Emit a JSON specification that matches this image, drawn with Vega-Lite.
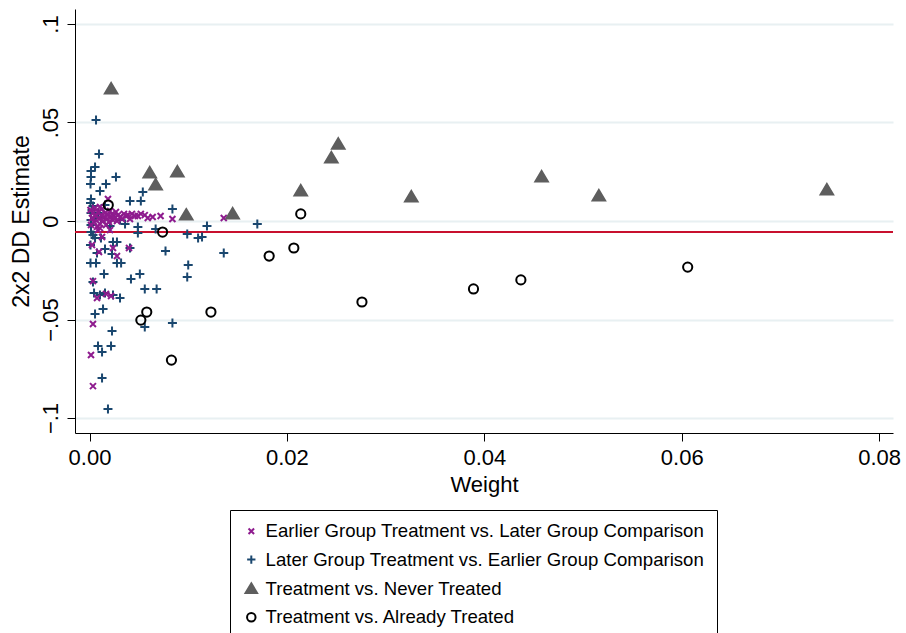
{
  "$schema": "https://vega.github.io/schema/vega-lite/v6.json",
  "width": 818,
  "height": 424,
  "autosize": {"type": "none"},
  "padding": {"left": 75, "top": 9, "right": 13, "bottom": 200},
  "background": "white",
  "config": {
    "view": {"stroke": null},
    "font": "Liberation Sans",
    "axis": {
      "domainColor": "black",
      "tickColor": "black",
      "labelColor": "black",
      "titleColor": "black",
      "labelFont": "Liberation Sans",
      "titleFont": "Liberation Sans",
      "titleFontWeight": "normal",
      "tickSize": 8,
      "domainWidth": 1,
      "tickWidth": 1
    },
    "legend": {
      "labelFont": "Liberation Sans",
      "labelColor": "black"
    }
  },
  "layer": [
    {
      "data": {"values": [{"overall": -0.0056}]},
      "mark": {"type": "rule", "color": "#c8102e", "strokeWidth": 2},
      "encoding": {
        "y": {"field": "overall", "type": "quantitative", "scale": {"domain": [-0.1076, 0.1076], "nice": false, "zero": false}}
      }
    },
    {
      "data": {
        "values": [
          {"group": "Later Group Treatment vs. Earlier Group Comparison", "weight": 0.00066, "estimate": 0.0513},
          {"group": "Later Group Treatment vs. Earlier Group Comparison", "weight": 0.00096, "estimate": 0.034},
          {"group": "Later Group Treatment vs. Earlier Group Comparison", "weight": 0.00056, "estimate": 0.0274},
          {"group": "Later Group Treatment vs. Earlier Group Comparison", "weight": 0.00015, "estimate": 0.0254},
          {"group": "Later Group Treatment vs. Earlier Group Comparison", "weight": 0.00015, "estimate": 0.0223},
          {"group": "Later Group Treatment vs. Earlier Group Comparison", "weight": 0.0001, "estimate": 0.0188},
          {"group": "Later Group Treatment vs. Earlier Group Comparison", "weight": 0.00167, "estimate": 0.0188},
          {"group": "Later Group Treatment vs. Earlier Group Comparison", "weight": 0.00106, "estimate": 0.0152},
          {"group": "Later Group Treatment vs. Earlier Group Comparison", "weight": 0.00268, "estimate": 0.0223},
          {"group": "Later Group Treatment vs. Earlier Group Comparison", "weight": 0.0054, "estimate": 0.0147},
          {"group": "Later Group Treatment vs. Earlier Group Comparison", "weight": 0.0041, "estimate": 0.0102},
          {"group": "Later Group Treatment vs. Earlier Group Comparison", "weight": 0.0052, "estimate": 0.0102},
          {"group": "Later Group Treatment vs. Earlier Group Comparison", "weight": 0.00015, "estimate": 0.0112},
          {"group": "Later Group Treatment vs. Earlier Group Comparison", "weight": 0.00035, "estimate": 0.0076},
          {"group": "Later Group Treatment vs. Earlier Group Comparison", "weight": 0.00025, "estimate": 0.0056},
          {"group": "Later Group Treatment vs. Earlier Group Comparison", "weight": 0.00015, "estimate": 0.0041},
          {"group": "Later Group Treatment vs. Earlier Group Comparison", "weight": 0.00116, "estimate": 0.0015},
          {"group": "Later Group Treatment vs. Earlier Group Comparison", "weight": 0.00015, "estimate": -0.002},
          {"group": "Later Group Treatment vs. Earlier Group Comparison", "weight": 0.00015, "estimate": -0.0056},
          {"group": "Later Group Treatment vs. Earlier Group Comparison", "weight": 0.00056, "estimate": -0.0086},
          {"group": "Later Group Treatment vs. Earlier Group Comparison", "weight": 0.00116, "estimate": -0.0086},
          {"group": "Later Group Treatment vs. Earlier Group Comparison", "weight": 0.0001, "estimate": -0.0122},
          {"group": "Later Group Treatment vs. Earlier Group Comparison", "weight": 0.00076, "estimate": -0.0162},
          {"group": "Later Group Treatment vs. Earlier Group Comparison", "weight": 0.00157, "estimate": -0.0142},
          {"group": "Later Group Treatment vs. Earlier Group Comparison", "weight": 0.00228, "estimate": -0.0168},
          {"group": "Later Group Treatment vs. Earlier Group Comparison", "weight": 0.00238, "estimate": -0.0107},
          {"group": "Later Group Treatment vs. Earlier Group Comparison", "weight": 0.00278, "estimate": -0.0107},
          {"group": "Later Group Treatment vs. Earlier Group Comparison", "weight": 0.00035, "estimate": -0.0071},
          {"group": "Later Group Treatment vs. Earlier Group Comparison", "weight": 0.0001, "estimate": -0.0213},
          {"group": "Later Group Treatment vs. Earlier Group Comparison", "weight": 0.00066, "estimate": -0.0213},
          {"group": "Later Group Treatment vs. Earlier Group Comparison", "weight": 0.00278, "estimate": -0.0213},
          {"group": "Later Group Treatment vs. Earlier Group Comparison", "weight": 0.0032, "estimate": -0.0213},
          {"group": "Later Group Treatment vs. Earlier Group Comparison", "weight": 0.00147, "estimate": -0.0269},
          {"group": "Later Group Treatment vs. Earlier Group Comparison", "weight": 0.0051, "estimate": -0.0269},
          {"group": "Later Group Treatment vs. Earlier Group Comparison", "weight": 0.0042, "estimate": -0.0294},
          {"group": "Later Group Treatment vs. Earlier Group Comparison", "weight": 0.0056, "estimate": -0.0345},
          {"group": "Later Group Treatment vs. Earlier Group Comparison", "weight": 0.0068, "estimate": -0.0345},
          {"group": "Later Group Treatment vs. Earlier Group Comparison", "weight": 0.00035, "estimate": -0.031},
          {"group": "Later Group Treatment vs. Earlier Group Comparison", "weight": 0.00046, "estimate": -0.0365},
          {"group": "Later Group Treatment vs. Earlier Group Comparison", "weight": 0.00106, "estimate": -0.0376},
          {"group": "Later Group Treatment vs. Earlier Group Comparison", "weight": 0.00157, "estimate": -0.0365},
          {"group": "Later Group Treatment vs. Earlier Group Comparison", "weight": 0.00238, "estimate": -0.0376},
          {"group": "Later Group Treatment vs. Earlier Group Comparison", "weight": 0.00309, "estimate": -0.0391},
          {"group": "Later Group Treatment vs. Earlier Group Comparison", "weight": 0.00137, "estimate": -0.0447},
          {"group": "Later Group Treatment vs. Earlier Group Comparison", "weight": 0.00056, "estimate": -0.0472},
          {"group": "Later Group Treatment vs. Earlier Group Comparison", "weight": 0.00228, "estimate": -0.0558},
          {"group": "Later Group Treatment vs. Earlier Group Comparison", "weight": 0.0056, "estimate": -0.0538},
          {"group": "Later Group Treatment vs. Earlier Group Comparison", "weight": 0.0084, "estimate": -0.0518},
          {"group": "Later Group Treatment vs. Earlier Group Comparison", "weight": 0.00086, "estimate": -0.0635},
          {"group": "Later Group Treatment vs. Earlier Group Comparison", "weight": 0.00218, "estimate": -0.0635},
          {"group": "Later Group Treatment vs. Earlier Group Comparison", "weight": 0.00127, "estimate": -0.0665},
          {"group": "Later Group Treatment vs. Earlier Group Comparison", "weight": 0.00127, "estimate": -0.0797},
          {"group": "Later Group Treatment vs. Earlier Group Comparison", "weight": 0.00187, "estimate": -0.0954},
          {"group": "Later Group Treatment vs. Earlier Group Comparison", "weight": 0.0067, "estimate": -0.0041},
          {"group": "Later Group Treatment vs. Earlier Group Comparison", "weight": 0.0049, "estimate": -0.003},
          {"group": "Later Group Treatment vs. Earlier Group Comparison", "weight": 0.0049, "estimate": -0.0061},
          {"group": "Later Group Treatment vs. Earlier Group Comparison", "weight": 0.0041, "estimate": -0.0137},
          {"group": "Later Group Treatment vs. Earlier Group Comparison", "weight": 0.0084, "estimate": 0.0061},
          {"group": "Later Group Treatment vs. Earlier Group Comparison", "weight": 0.0099, "estimate": -0.0066},
          {"group": "Later Group Treatment vs. Earlier Group Comparison", "weight": 0.011, "estimate": -0.0086},
          {"group": "Later Group Treatment vs. Earlier Group Comparison", "weight": 0.0114, "estimate": -0.0081},
          {"group": "Later Group Treatment vs. Earlier Group Comparison", "weight": 0.0119, "estimate": -0.0025},
          {"group": "Later Group Treatment vs. Earlier Group Comparison", "weight": 0.017, "estimate": -0.0015},
          {"group": "Later Group Treatment vs. Earlier Group Comparison", "weight": 0.0077, "estimate": -0.0152},
          {"group": "Later Group Treatment vs. Earlier Group Comparison", "weight": 0.0136, "estimate": -0.0162},
          {"group": "Later Group Treatment vs. Earlier Group Comparison", "weight": 0.01, "estimate": -0.0223},
          {"group": "Later Group Treatment vs. Earlier Group Comparison", "weight": 0.0099, "estimate": -0.0284},
          {"group": "Later Group Treatment vs. Earlier Group Comparison", "weight": 0.00157, "estimate": 0.0081},
          {"group": "Later Group Treatment vs. Earlier Group Comparison", "weight": 0.00086, "estimate": 0.0041},
          {"group": "Later Group Treatment vs. Earlier Group Comparison", "weight": 0.00309, "estimate": 0.0005},
          {"group": "Later Group Treatment vs. Earlier Group Comparison", "weight": 0.00208, "estimate": -0.0025},
          {"group": "Later Group Treatment vs. Earlier Group Comparison", "weight": 0.0036, "estimate": -0.0015},
          {"group": "Later Group Treatment vs. Earlier Group Comparison", "weight": 0.0001, "estimate": 0.0091},
          {"group": "Later Group Treatment vs. Earlier Group Comparison", "weight": 0.00056, "estimate": 0.0015},
          {"group": "Later Group Treatment vs. Earlier Group Comparison", "weight": 0.00015, "estimate": 0.0005},

          {"group": "Earlier Group Treatment vs. Later Group Comparison", "weight": 0.0001, "estimate": 0.0056},
          {"group": "Earlier Group Treatment vs. Later Group Comparison", "weight": 0.00015, "estimate": -0.002},
          {"group": "Earlier Group Treatment vs. Later Group Comparison", "weight": 0.00025, "estimate": 0.0015},
          {"group": "Earlier Group Treatment vs. Later Group Comparison", "weight": 0.00035, "estimate": 0.0041},
          {"group": "Earlier Group Treatment vs. Later Group Comparison", "weight": 0.00046, "estimate": -0.0005},
          {"group": "Earlier Group Treatment vs. Later Group Comparison", "weight": 0.00056, "estimate": 0.0066},
          {"group": "Earlier Group Treatment vs. Later Group Comparison", "weight": 0.00066, "estimate": 0.0025},
          {"group": "Earlier Group Treatment vs. Later Group Comparison", "weight": 0.00076, "estimate": -0.003},
          {"group": "Earlier Group Treatment vs. Later Group Comparison", "weight": 0.00086, "estimate": 0.0046},
          {"group": "Earlier Group Treatment vs. Later Group Comparison", "weight": 0.00096, "estimate": 0.001},
          {"group": "Earlier Group Treatment vs. Later Group Comparison", "weight": 0.00106, "estimate": -0.0015},
          {"group": "Earlier Group Treatment vs. Later Group Comparison", "weight": 0.00116, "estimate": 0.003},
          {"group": "Earlier Group Treatment vs. Later Group Comparison", "weight": 0.00127, "estimate": 0.0061},
          {"group": "Earlier Group Treatment vs. Later Group Comparison", "weight": 0.00137, "estimate": 0.0},
          {"group": "Earlier Group Treatment vs. Later Group Comparison", "weight": 0.00147, "estimate": 0.002},
          {"group": "Earlier Group Treatment vs. Later Group Comparison", "weight": 0.00157, "estimate": 0.0041},
          {"group": "Earlier Group Treatment vs. Later Group Comparison", "weight": 0.00167, "estimate": -0.002},
          {"group": "Earlier Group Treatment vs. Later Group Comparison", "weight": 0.00177, "estimate": 0.001},
          {"group": "Earlier Group Treatment vs. Later Group Comparison", "weight": 0.00187, "estimate": 0.003},
          {"group": "Earlier Group Treatment vs. Later Group Comparison", "weight": 0.00197, "estimate": -0.0005},
          {"group": "Earlier Group Treatment vs. Later Group Comparison", "weight": 0.00208, "estimate": 0.0051},
          {"group": "Earlier Group Treatment vs. Later Group Comparison", "weight": 0.00218, "estimate": 0.002},
          {"group": "Earlier Group Treatment vs. Later Group Comparison", "weight": 0.00228, "estimate": 0.0036},
          {"group": "Earlier Group Treatment vs. Later Group Comparison", "weight": 0.00238, "estimate": 0.0005},
          {"group": "Earlier Group Treatment vs. Later Group Comparison", "weight": 0.00248, "estimate": 0.0025},
          {"group": "Earlier Group Treatment vs. Later Group Comparison", "weight": 0.00258, "estimate": 0.0015},
          {"group": "Earlier Group Treatment vs. Later Group Comparison", "weight": 0.00268, "estimate": 0.0046},
          {"group": "Earlier Group Treatment vs. Later Group Comparison", "weight": 0.00278, "estimate": 0.0},
          {"group": "Earlier Group Treatment vs. Later Group Comparison", "weight": 0.00289, "estimate": 0.003},
          {"group": "Earlier Group Treatment vs. Later Group Comparison", "weight": 0.00309, "estimate": 0.002},
          {"group": "Earlier Group Treatment vs. Later Group Comparison", "weight": 0.00329, "estimate": 0.001},
          {"group": "Earlier Group Treatment vs. Later Group Comparison", "weight": 0.00349, "estimate": 0.0036},
          {"group": "Earlier Group Treatment vs. Later Group Comparison", "weight": 0.0037, "estimate": 0.0025},
          {"group": "Earlier Group Treatment vs. Later Group Comparison", "weight": 0.0039, "estimate": 0.003},
          {"group": "Earlier Group Treatment vs. Later Group Comparison", "weight": 0.0041, "estimate": 0.001},
          {"group": "Earlier Group Treatment vs. Later Group Comparison", "weight": 0.0043, "estimate": 0.0036},
          {"group": "Earlier Group Treatment vs. Later Group Comparison", "weight": 0.0046, "estimate": 0.0025},
          {"group": "Earlier Group Treatment vs. Later Group Comparison", "weight": 0.0049, "estimate": 0.0025},
          {"group": "Earlier Group Treatment vs. Later Group Comparison", "weight": 0.0052, "estimate": 0.0036},
          {"group": "Earlier Group Treatment vs. Later Group Comparison", "weight": 0.0056, "estimate": 0.003},
          {"group": "Earlier Group Treatment vs. Later Group Comparison", "weight": 0.0059, "estimate": 0.0015},
          {"group": "Earlier Group Treatment vs. Later Group Comparison", "weight": 0.0064, "estimate": 0.002},
          {"group": "Earlier Group Treatment vs. Later Group Comparison", "weight": 0.0072, "estimate": 0.0025},
          {"group": "Earlier Group Treatment vs. Later Group Comparison", "weight": 0.0084, "estimate": 0.001},
          {"group": "Earlier Group Treatment vs. Later Group Comparison", "weight": 0.0136, "estimate": 0.0015},
          {"group": "Earlier Group Treatment vs. Later Group Comparison", "weight": 0.00086, "estimate": -0.0046},
          {"group": "Earlier Group Treatment vs. Later Group Comparison", "weight": 0.00106, "estimate": -0.0036},
          {"group": "Earlier Group Treatment vs. Later Group Comparison", "weight": 0.00208, "estimate": -0.0046},
          {"group": "Earlier Group Treatment vs. Later Group Comparison", "weight": 0.00187, "estimate": 0.0112},
          {"group": "Earlier Group Treatment vs. Later Group Comparison", "weight": 0.00106, "estimate": 0.0071},
          {"group": "Earlier Group Treatment vs. Later Group Comparison", "weight": 0.00127, "estimate": -0.0081},
          {"group": "Earlier Group Treatment vs. Later Group Comparison", "weight": 0.00025, "estimate": -0.0122},
          {"group": "Earlier Group Treatment vs. Later Group Comparison", "weight": 0.00096, "estimate": -0.0157},
          {"group": "Earlier Group Treatment vs. Later Group Comparison", "weight": 0.00238, "estimate": -0.0137},
          {"group": "Earlier Group Treatment vs. Later Group Comparison", "weight": 0.00278, "estimate": -0.0178},
          {"group": "Earlier Group Treatment vs. Later Group Comparison", "weight": 0.004, "estimate": -0.0137},
          {"group": "Earlier Group Treatment vs. Later Group Comparison", "weight": 0.00035, "estimate": -0.0305},
          {"group": "Earlier Group Treatment vs. Later Group Comparison", "weight": 0.00076, "estimate": -0.0391},
          {"group": "Earlier Group Treatment vs. Later Group Comparison", "weight": 0.00167, "estimate": -0.037},
          {"group": "Earlier Group Treatment vs. Later Group Comparison", "weight": 0.00218, "estimate": -0.0381},
          {"group": "Earlier Group Treatment vs. Later Group Comparison", "weight": 0.00035, "estimate": -0.0523},
          {"group": "Earlier Group Treatment vs. Later Group Comparison", "weight": 0.00015, "estimate": -0.068},
          {"group": "Earlier Group Treatment vs. Later Group Comparison", "weight": 0.00035, "estimate": -0.0838},

          {"group": "Treatment vs. Never Treated", "weight": 0.00219, "estimate": 0.067},
          {"group": "Treatment vs. Never Treated", "weight": 0.0061, "estimate": 0.0244},
          {"group": "Treatment vs. Never Treated", "weight": 0.0067, "estimate": 0.0183},
          {"group": "Treatment vs. Never Treated", "weight": 0.0089, "estimate": 0.0249},
          {"group": "Treatment vs. Never Treated", "weight": 0.0098, "estimate": 0.003},
          {"group": "Treatment vs. Never Treated", "weight": 0.0145, "estimate": 0.0036},
          {"group": "Treatment vs. Never Treated", "weight": 0.0214, "estimate": 0.0152},
          {"group": "Treatment vs. Never Treated", "weight": 0.0245, "estimate": 0.032},
          {"group": "Treatment vs. Never Treated", "weight": 0.0252, "estimate": 0.039},
          {"group": "Treatment vs. Never Treated", "weight": 0.0326, "estimate": 0.0122},
          {"group": "Treatment vs. Never Treated", "weight": 0.0458, "estimate": 0.0223},
          {"group": "Treatment vs. Never Treated", "weight": 0.0516, "estimate": 0.0127},
          {"group": "Treatment vs. Never Treated", "weight": 0.0747, "estimate": 0.0157},

          {"group": "Treatment vs. Already Treated", "weight": 0.0019, "estimate": 0.0081},
          {"group": "Treatment vs. Already Treated", "weight": 0.0074, "estimate": -0.0056},
          {"group": "Treatment vs. Already Treated", "weight": 0.0052, "estimate": -0.0503},
          {"group": "Treatment vs. Already Treated", "weight": 0.0058, "estimate": -0.0462},
          {"group": "Treatment vs. Already Treated", "weight": 0.0083, "estimate": -0.0706},
          {"group": "Treatment vs. Already Treated", "weight": 0.0123, "estimate": -0.0462},
          {"group": "Treatment vs. Already Treated", "weight": 0.0182, "estimate": -0.0178},
          {"group": "Treatment vs. Already Treated", "weight": 0.0207, "estimate": -0.0137},
          {"group": "Treatment vs. Already Treated", "weight": 0.0214, "estimate": 0.0036},
          {"group": "Treatment vs. Already Treated", "weight": 0.0276, "estimate": -0.0411},
          {"group": "Treatment vs. Already Treated", "weight": 0.0389, "estimate": -0.0345},
          {"group": "Treatment vs. Already Treated", "weight": 0.0437, "estimate": -0.0299},
          {"group": "Treatment vs. Already Treated", "weight": 0.0606, "estimate": -0.0234}
        ]
      },
      "mark": {"type": "point", "size": 100, "strokeWidth": 2, "opacity": 1},
      "encoding": {
        "x": {
          "field": "weight",
          "type": "quantitative",
          "title": "Weight",
          "scale": {"domain": [-0.00147, 0.0814], "nice": false, "zero": false},
          "axis": {
            "values": [0, 0.02, 0.04, 0.06, 0.08],
            "format": ".2f",
            "grid": false,
            "labelFontSize": 22,
            "titleFontSize": 22,
            "labelPadding": 6,
            "titlePadding": 6
          }
        },
        "y": {
          "field": "estimate",
          "type": "quantitative",
          "title": "2x2 DD Estimate",
          "scale": {"domain": [-0.1076, 0.1076], "nice": false, "zero": false},
          "axis": {
            "values": [-0.1, -0.05, 0, 0.05, 0.1],
            "labelExpr": "replace(format(datum.value, '~g'), '0.', '.')",
            "labelAngle": -90,
            "labelAlign": "center",
            "labelBaseline": "bottom",
            "labelPadding": 5,
            "labelFontSize": 22,
            "titleFontSize": 23,
            "titlePadding": 6,
            "grid": true,
            "gridColor": "#e8f0f2",
            "gridWidth": 2
          }
        },
        "shape": {
          "field": "group",
          "type": "nominal",
          "scale": {
            "domain": [
              "Earlier Group Treatment vs. Later Group Comparison",
              "Later Group Treatment vs. Earlier Group Comparison",
              "Treatment vs. Never Treated",
              "Treatment vs. Already Treated"
            ],
            "range": [
              "M-0.6,-0.6L0.6,0.6M0.6,-0.6L-0.6,0.6",
              "M-0.9,0L0.9,0M0,-0.9L0,0.9",
              "M0,-1.2L1.25,0.9L-1.25,0.9Z",
              "M0.92,0A0.92,0.92 0 1,1 -0.92,0A0.92,0.92 0 1,1 0.92,0Z"
            ]
          },
          "legend": {
            "title": null,
            "orient": "none",
            "legendX": 155,
            "legendY": 501,
            "strokeColor": "black",
            "padding": 12,
            "labelFontSize": 18.6,
            "labelOffset": 5,
            "rowPadding": 9.3,
            "symbolSize": 85,
            "symbolStrokeWidth": 2,
            "labelLimit": 600
          }
        },
        "fill": {
          "field": "group",
          "type": "nominal",
          "scale": {
            "domain": [
              "Earlier Group Treatment vs. Later Group Comparison",
              "Later Group Treatment vs. Earlier Group Comparison",
              "Treatment vs. Never Treated",
              "Treatment vs. Already Treated"
            ],
            "range": ["transparent", "transparent", "#5e5e5e", "transparent"]
          }
        },
        "stroke": {
          "field": "group",
          "type": "nominal",
          "scale": {
            "domain": [
              "Earlier Group Treatment vs. Later Group Comparison",
              "Later Group Treatment vs. Earlier Group Comparison",
              "Treatment vs. Never Treated",
              "Treatment vs. Already Treated"
            ],
            "range": ["#8e1b8e", "#1a476f", "#5e5e5e", "#000000"]
          }
        }
      }
    }
  ]
}
